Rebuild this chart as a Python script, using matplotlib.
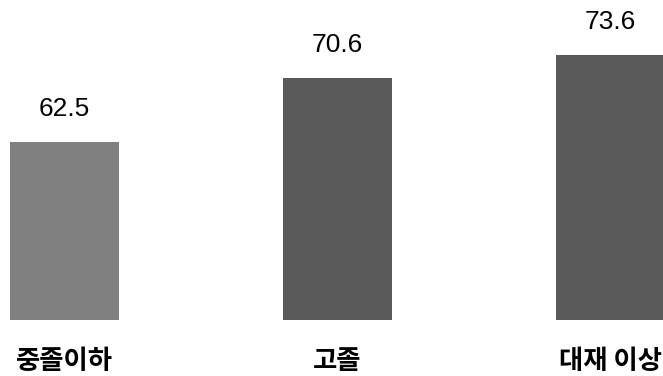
import matplotlib
matplotlib.use("Agg")
from matplotlib import pyplot as plt
from matplotlib import font_manager

# education level vs. rate (%)
categories = ["중졸이하", "고졸", "대재 이상"]
values = [62.5, 70.6, 73.6]
colors = ["#808080", "#595959", "#595959"]

# narrow face for the numbers if it is there
names = {f.name for f in font_manager.fontManager.ttflist}
num_font = "Liberation Sans Narrow" if "Liberation Sans Narrow" in names else "Liberation Sans"

fig = plt.figure(figsize=(6.63, 3.76), dpi=100)
ax = fig.add_axes([0, 56 / 376, 1, 320 / 376])

x = list(range(len(categories)))
bars = ax.bar(x, values, width=0.4, color=colors, bottom=0)

ax.set_xlim(-0.236, 2.192)
ax.set_ylim(40, 40 + 320 / 7.9)

for b, v in zip(bars, values):
    ax.annotate(f"{v:.1f}", (b.get_x() + b.get_width() / 2, v),
                xytext=(0, 15), textcoords="offset points",
                ha="center", va="bottom", fontsize=19, family=num_font)

ax.set_xticks(x)
ax.set_xticklabels(categories, family=["Noto Sans CJK KR", "DejaVu Sans"],
                   fontsize=19, fontweight="bold")
ax.tick_params(axis="x", length=0, pad=20)
ax.tick_params(axis="y", left=False, labelleft=False)
for s in ax.spines.values():
    s.set_visible(False)

fig.savefig("out.png", dpi=100)
